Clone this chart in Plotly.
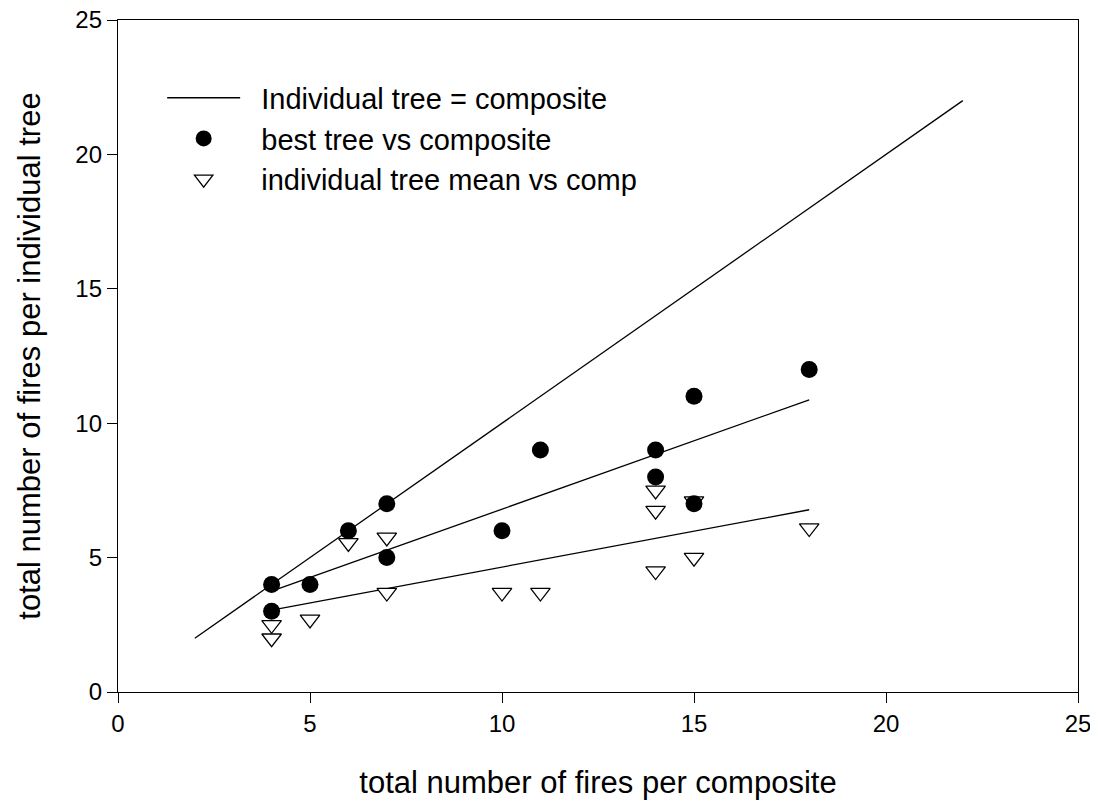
import plotly.graph_objects as go

# datos
best_x = [4, 4, 5, 6, 7, 7, 10, 11, 14, 14, 15, 15, 18]
best_y = [4, 3, 4, 6, 7, 5, 6, 9, 9, 8, 11, 7, 12]

mean_x = [4, 4, 5, 6, 7, 7, 10, 11, 14, 14, 14, 15, 15, 18]
mean_y = [2.5, 2.0, 2.7, 5.55, 5.75, 3.7, 3.7, 3.7, 7.5, 6.75, 4.5, 7.1, 5.0, 6.1]

# linea 1:1
ident_x = [2, 22]
ident_y = [2, 22]

# rectas de regresion (extremos leidos)
best_fit_x = [4, 18]
best_fit_y = [3.75, 10.87]
mean_fit_x = [4, 18]
mean_fit_y = [3.05, 6.78]

FONT = "Arial, Liberation Sans, sans-serif"
NB = "\u00a0\u00a0"

fig = go.Figure()

fig.add_trace(go.Scatter(x=ident_x, y=ident_y, mode='lines', name=NB + 'Individual tree = composite',
                         line=dict(color='black', width=1.3)))
fig.add_trace(go.Scatter(x=best_fit_x, y=best_fit_y, mode='lines', showlegend=False,
                         line=dict(color='black', width=1.3)))
fig.add_trace(go.Scatter(x=mean_fit_x, y=mean_fit_y, mode='lines', showlegend=False,
                         line=dict(color='black', width=1.3)))

# triangulos primero, los circulos quedan encima
fig.add_trace(go.Scatter(x=mean_x, y=mean_y, mode='markers', name=NB + 'individual tree mean vs comp',
                         marker=dict(symbol='triangle-down', size=17, color='white',
                                     line=dict(color='black', width=1.3))))
fig.add_trace(go.Scatter(x=best_x, y=best_y, mode='markers', name=NB + 'best tree vs composite',
                         marker=dict(symbol='circle', size=17, color='black',
                                     line=dict(color='black', width=0))))

axis_style = dict(range=[0, 25], dtick=5, ticks='outside', ticklen=10, tickwidth=1.3,
                  tickcolor='black', showline=True, linecolor='black', linewidth=1.3,
                  mirror=True, showgrid=False, zeroline=False, automargin=False,
                  ticklabeloverflow='allow',
                  tickfont=dict(family=FONT, size=24, color='black'))

# la pagina tiene 8px de margen en el body, se descuenta aqui
fig.update_layout(
    width=1082, height=792,
    margin=dict(l=110, r=12, t=12, b=108),
    paper_bgcolor='white', plot_bgcolor='white',
    font=dict(family=FONT, color='black'),
    xaxis=dict(axis_style, title=dict(text='total number of fires per composite',
                                      font=dict(family=FONT, size=31), standoff=40)),
    yaxis=dict(axis_style, title=dict(text='total number of fires per individual tree',
                                      font=dict(family=FONT, size=31), standoff=25)),
    legend=dict(x=0.046, y=0.922, xanchor='left', yanchor='top', traceorder='normal',
                font=dict(family=FONT, size=29), bgcolor='rgba(0,0,0,0)', itemwidth=73),
)

# orden de la leyenda como en el original
fig.data[0].legendrank = 1
fig.data[4].legendrank = 2
fig.data[3].legendrank = 3

fig.write_html("out.html")
